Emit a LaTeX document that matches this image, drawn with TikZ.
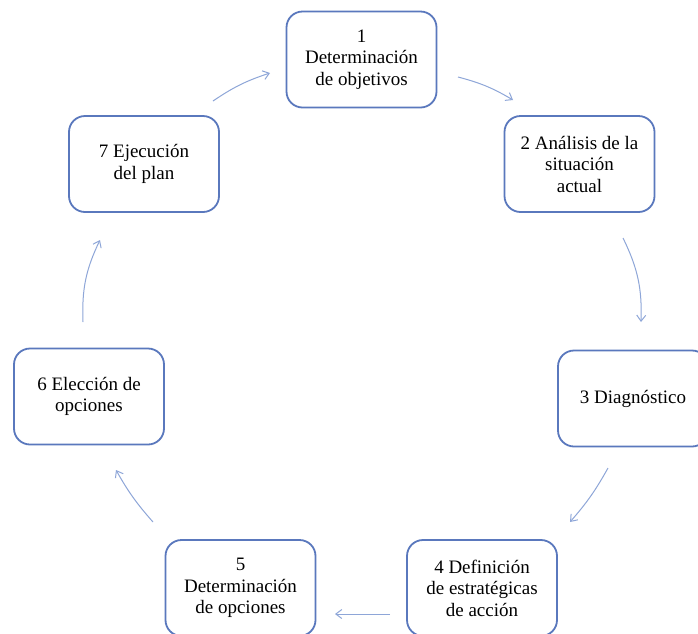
\documentclass[tikz,border=0pt]{standalone}
\usepackage{fontspec}
\setmainfont{Liberation Serif}
\usetikzlibrary{arrows.meta}
\definecolor{boxblue}{HTML}{5A78BD}
\definecolor{arrblue}{HTML}{8EA6D8}
\begin{document}
\begin{tikzpicture}[x=1pt,y=1pt,
  stepbox/.style={draw=boxblue, line width=1.8pt, rounded corners=16pt, fill=white,
    minimum width=150pt, minimum height=96pt, align=center, inner sep=2pt,
    font=\fontsize{19}{21.5}\selectfont},
  flow/.style={draw=arrblue, line width=1pt, -{Straight Barb[length=6pt,width=9pt]}}]
\useasboundingbox[fill=white] (0,0) rectangle (698,-633);
\node[stepbox] (n1) at (361.5,-59.5) {1\\Determinación\\de objetivos};
\node[stepbox] (n2) at (579.5,-164) {2 Análisis de la\\situación\\actual};
\node[stepbox] (n3) at (633,-398.5) {3 Diagnóstico};
\node[stepbox] (n4) at (482,-588) {4 Definición\\de estratégicas\\de acción};
\node[stepbox] (n5) at (240.5,-588) {5\\Determinación\\de opciones};
\node[stepbox] (n6) at (89,-396.5) {6 Elección de\\opciones};
\node[stepbox] (n7) at (144,-164) {7 Ejecución\\del plan};
\coordinate (a1s) at (458,-77);  \coordinate (a1e) at (513,-100);
\coordinate (a2s) at (623,-238); \coordinate (a2e) at (641,-322);
\coordinate (a3s) at (608,-468); \coordinate (a3e) at (570,-522);
\coordinate (a4s) at (390,-614); \coordinate (a4e) at (335,-614);
\coordinate (a5s) at (153,-522); \coordinate (a5e) at (116,-470);
\coordinate (a6s) at (83,-322);  \coordinate (a6e) at (100,-240);
\coordinate (a7s) at (213,-101); \coordinate (a7e) at (270,-73);
\draw[flow] (a1s) to[bend left=8] (a1e);
\draw[flow] (a2s) to[bend left=14] (a2e);
\draw[flow] (a3s) to[bend left=6] (a3e);
\draw[flow] (a4s) -- (a4e);
\draw[flow] (a5s) to[bend left=6] (a5e);
\draw[flow] (a6s) to[bend left=14] (a6e);
\draw[flow] (a7s) to[bend left=8] (a7e);
\end{tikzpicture}
\end{document}
